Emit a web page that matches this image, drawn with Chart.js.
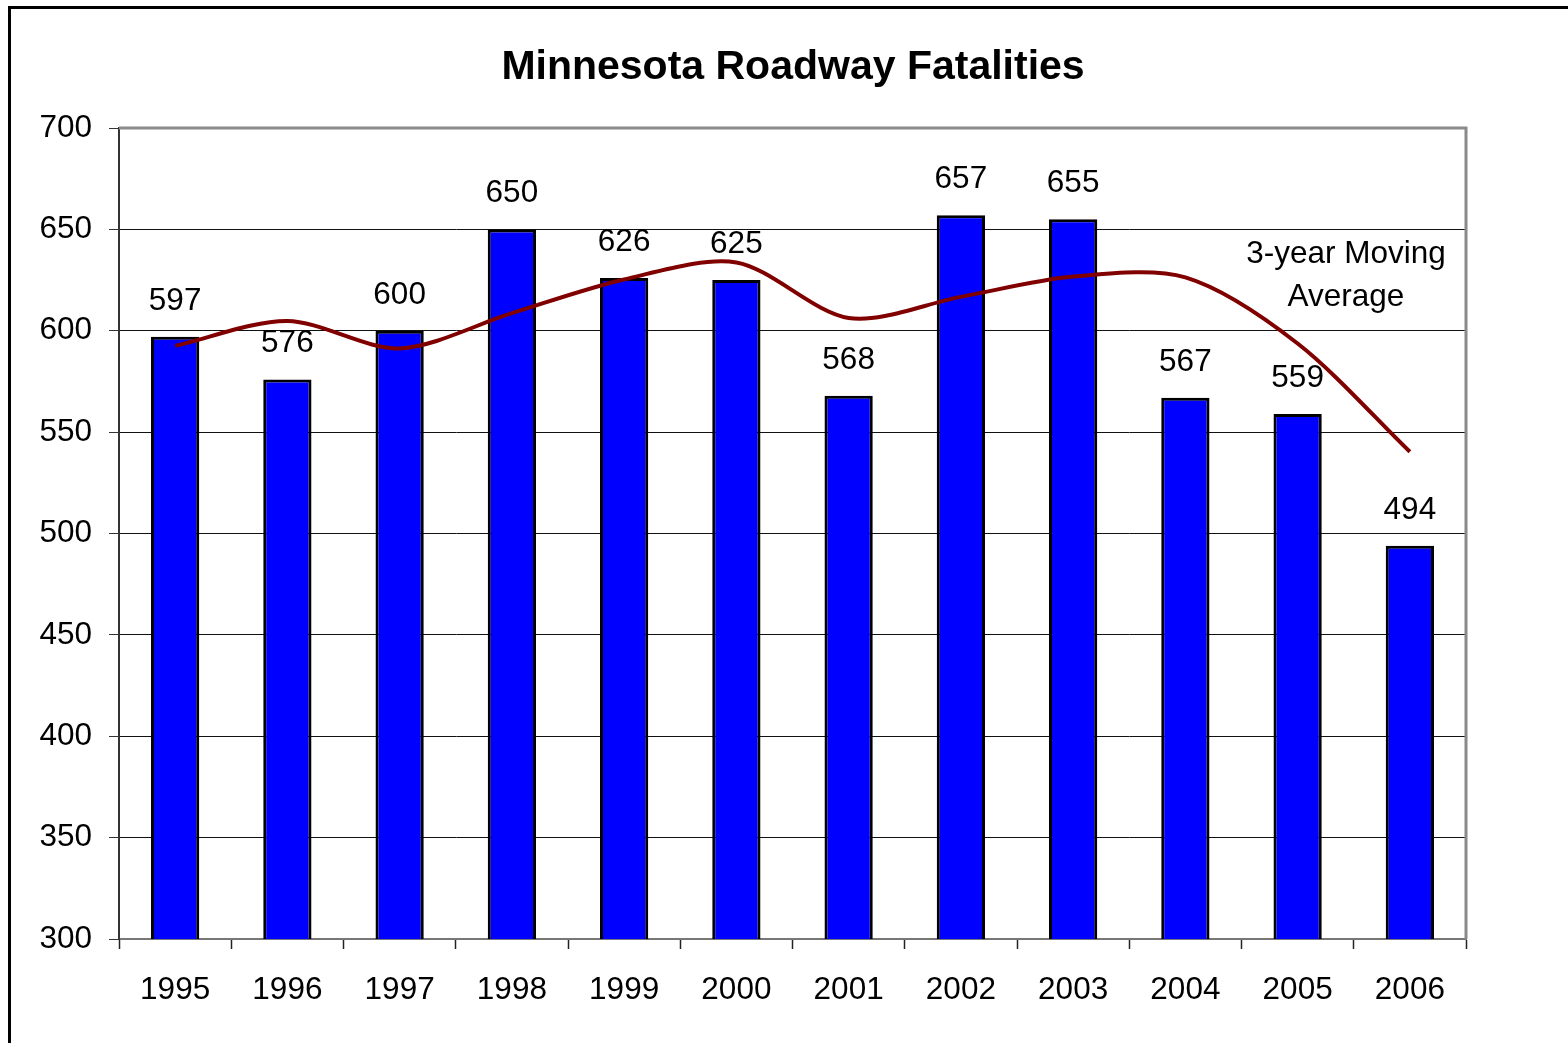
<!DOCTYPE html>
<html>
<head>
<meta charset="utf-8">
<title>Minnesota Roadway Fatalities</title>
<script src="https://cdn.jsdelivr.net/npm/chart.js@4/dist/chart.umd.min.js"></script>
<style>
    html, body { margin: 0; padding: 0; background: #fff; }
    #wrap { width: 1568px; height: 1043px; position: relative; }
</style>
</head>
<body>
<div id="wrap"><canvas id="fatalChart" width="1568" height="1043"></canvas></div>
<script>
var years = ['1995', '1996', '1997', '1998', '1999', '2000', '2001', '2002', '2003', '2004', '2005', '2006'];
var fatalities = [597, 576, 600, 650, 626, 625, 568, 657, 655, 567, 559, 494];
var movingAvg = [592.6, 604.8, 591.3, 608.7, 625.3, 633.7, 606.3, 616.7, 626.7, 626.3, 593.7, 540.3];
var yTicks = [300, 350, 400, 450, 500, 550, 600, 650, 700];
var chartTitle = 'Minnesota Roadway Fatalities';
var lineNote = ['3-year Moving', 'Average'];

(function () {
    var FONT = '"Liberation Sans", Arial, sans-serif';
    var canvas = document.getElementById('fatalChart');
    var ctx = canvas.getContext('2d');

    // frame, title, plot border and the text bits Excel put on the chart
    var decor = {
        id: 'decor',
        beforeDraw: function (chart) {
            var c = chart.ctx;
            c.save();
            c.fillStyle = '#fff';
            c.fillRect(0, 0, chart.width, chart.height);
            c.strokeStyle = '#000';
            c.lineWidth = 3;
            c.strokeRect(9.5, 7.5, 1700, 1200);
            c.restore();
        },
        afterDraw: function (chart) {
            var c = chart.ctx;
            var a = chart.chartArea;
            c.save();
            c.strokeStyle = '#8a8a8a';
            c.lineWidth = 3;
            c.beginPath();
            c.moveTo(a.left, a.top);
            c.lineTo(a.right, a.top);
            c.lineTo(a.right, a.bottom);
            c.stroke();

            c.fillStyle = '#000';
            c.textAlign = 'center';
            c.textBaseline = 'alphabetic';
            c.font = 'bold 41px ' + FONT;
            c.fillText(chartTitle, 793, 79);

            c.font = '31.5px ' + FONT;
            c.fillText(lineNote[0], 1346, 263);
            c.fillText(lineNote[1], 1346, 306);
            c.restore();
        },
        afterDatasetsDraw: function (chart) {
            var c = chart.ctx;
            var meta = chart.getDatasetMeta(0);
            c.save();
            c.fillStyle = '#000';
            c.font = '31.5px ' + FONT;
            c.textAlign = 'center';
            c.textBaseline = 'alphabetic';
            meta.data.forEach(function (bar, i) {
                c.fillText(String(fatalities[i]), bar.x, bar.y - 27);
            });
            c.restore();
        }
    };

    new Chart(ctx, {
        data: {
            labels: years,
            datasets: [{
                type: 'bar',
                label: 'Fatalities',
                data: fatalities,
                backgroundColor: '#0000ff',
                borderColor: '#000',
                borderWidth: 3,
                borderSkipped: false,
                barPercentage: 0.43,
                categoryPercentage: 1,
                order: 2
            }, {
                type: 'line',
                label: '3-year Moving Average',
                data: movingAvg,
                borderColor: '#800000',
                borderWidth: 4,
                pointRadius: 0,
                tension: 0.3,
                fill: false,
                order: 1
            }]
        },
        options: {
            responsive: false,
            animation: false,
            devicePixelRatio: 1,
            layout: { padding: { left: 0, top: 128, right: 102, bottom: 0 } },
            plugins: {
                legend: { display: false },
                tooltip: { enabled: false },
                title: { display: false }
            },
            scales: {
                x: {
                    offset: true,
                    afterFit: function (s) { s.height = 104; },
                    grid: {
                        offset: true,
                        drawOnChartArea: false,
                        drawTicks: true,
                        tickLength: 10,
                        tickColor: '#222',
                        tickWidth: 1.5
                    },
                    border: { color: '#777', width: 2 },
                    ticks: {
                        color: '#000',
                        padding: 22,
                        maxRotation: 0,
                        font: { size: 31.5, family: FONT }
                    }
                },
                y: {
                    min: 300,
                    max: 700,
                    afterFit: function (s) { s.width = 119; },
                    afterBuildTicks: function (s) {
                        s.ticks = yTicks.map(function (v) { return { value: v }; });
                    },
                    grid: {
                        color: '#111',
                        lineWidth: 1,
                        tickLength: 10,
                        tickColor: '#333'
                    },
                    border: { color: '#333', width: 2 },
                    ticks: {
                        color: '#000',
                        padding: 17,
                        font: { size: 31.5, family: FONT }
                    }
                }
            }
        },
        plugins: [decor]
    });
})();
</script>
</body>
</html>
